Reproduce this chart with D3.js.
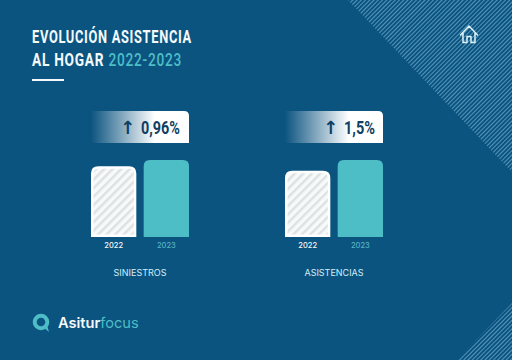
<!DOCTYPE html>
<html>
<head>
<meta charset="utf-8">
<script src="https://cdn.jsdelivr.net/npm/d3@7"></script>
<style>
html, body { margin: 0; padding: 0; background: #0c5480; }
svg { display: block; }
</style>
</head>
<body>
<div id="chart-container"></div>
<script>
var years = ["2022", "2023"];
var categories = ["SINIESTROS", "ASISTENCIAS"];
var siniestros = [92, 100];
var asistencias = [86, 100];
var changes = ["0,96%", "1,5%"];

var navy = "#0c5480", ink = "#0f3f63", teal = "#4dbdc6";

var svg = d3.select("#chart-container")
    .append("svg")
    .attr("width", 512)
    .attr("height", 360);

var defs = svg.append("defs");

// Stripes inside the 2022 bars
var barHatch = defs.append("pattern")
    .attr("id", "bar-hatch")
    .attr("width", 6)
    .attr("height", 6)
    .attr("patternUnits", "userSpaceOnUse")
    .attr("patternTransform", "rotate(45)");
barHatch.append("rect").attr("width", 6).attr("height", 6).attr("fill", "#f8f9f9");
barHatch.append("rect").attr("width", 2.4).attr("height", 6).attr("fill", "#dce1e4");

// Stripes of the corner decoration
var cornerHatch = defs.append("pattern")
    .attr("id", "corner-hatch")
    .attr("width", 3)
    .attr("height", 3)
    .attr("patternUnits", "userSpaceOnUse")
    .attr("patternTransform", "rotate(45)");
cornerHatch.append("rect").attr("width", 1).attr("height", 3).attr("fill", "#5596bb");

var fade = defs.append("linearGradient").attr("id", "badge-fade");
fade.append("stop").attr("offset", "0%").attr("stop-color", "#fff").attr("stop-opacity", 0);
fade.append("stop").attr("offset", "65%").attr("stop-color", "#fff").attr("stop-opacity", 1);

// Background
svg.append("rect").attr("width", 512).attr("height", 360).attr("fill", navy);
svg.append("path").attr("d", "M348,0L512,172L512,0Z").attr("fill", "url(#corner-hatch)");
svg.append("path").attr("d", "M457,360L512,303L512,360Z").attr("fill", "url(#corner-hatch)");

// No condensed font is installed, so squeeze Roboto to the wanted width
function condense(sel, x, y, width) {
    var scale = width / sel.node().getComputedTextLength();
    sel.attr("transform", "translate(" + x + "," + y + ") scale(" + scale + ",1)");
    return sel;
}

// Title
var title = svg.append("g")
    .attr("font-family", "Roboto")
    .attr("font-size", 18.5)
    .attr("font-weight", 700)
    .attr("letter-spacing", 1)
    .attr("fill", "#f4fafc");
condense(title.append("text").text("EVOLUCIÓN ASISTENCIA"), 32, 43, 160);
var line2 = title.append("text");
line2.append("tspan").text("AL HOGAR ");
line2.append("tspan").attr("fill", teal).attr("font-weight", 500).text("2022-2023");
condense(line2, 32, 66, 150);
svg.append("rect").attr("x", 32).attr("y", 79).attr("width", 32).attr("height", 2).attr("fill", "#f4fafc");

// Home icon
svg.append("path")
    .attr("d", "M460.5,35L469,26L477.5,35M463,33V42.5H467V36.5H471V42.5H475V33")
    .attr("fill", "none")
    .attr("stroke", "#dff3f8")
    .attr("stroke-width", 1.5)
    .attr("stroke-linejoin", "round")
    .attr("stroke-linecap", "round");

// Vertical scale is shared by both panels
var y = d3.scaleLinear().domain([0, 100]).range([237, 160]);

function topRounded(x0, y0, w, h, r) {
    return "M" + x0 + "," + (y0 + h) +
        "V" + (y0 + r) +
        "Q" + x0 + "," + y0 + " " + (x0 + r) + "," + y0 +
        "H" + (x0 + w - r) +
        "Q" + (x0 + w) + "," + y0 + " " + (x0 + w) + "," + (y0 + r) +
        "V" + (y0 + h) + "Z";
}

function drawPanel(left, right, category, values, change, textEnd, textLen) {
    var x = d3.scaleBand()
        .domain(years)
        .range([left, right])
        .paddingInner(0.14);

    var g = svg.append("g");

    // Change badge
    g.append("path")
        .attr("d", "M" + left + ",111H" + (right - 5) + "Q" + right + ",111 " + right + ",116V143H" + left + "Z")
        .attr("fill", "url(#badge-fade)");
    var badgeText = g.append("text")
        .attr("font-family", "Roboto")
        .attr("font-size", 17.5)
        .attr("font-weight", 700)
        .attr("fill", ink)
        .text(change);
    condense(badgeText, textEnd - textLen, 133.5, textLen);
    g.append("text")
        .attr("x", textEnd - textLen - 6)
        .attr("y", 134)
        .attr("text-anchor", "end")
        .attr("font-family", "DejaVu Sans")
        .attr("font-size", 18)
        .attr("font-weight", 700)
        .attr("fill", ink)
        .text("↑");

    // Bars
    g.selectAll(".bar")
        .data(years)
        .enter()
        .append("path")
        .attr("class", "bar")
        .attr("d", function (d, i) {
            // the white border of the 2022 bar stays inside its band
            var inset = i === 0 ? 1.25 : 0;
            return topRounded(x(d) + inset, y(values[i]) + inset, x.bandwidth() - inset * 2, y(0) - y(values[i]) - inset * 2, 6);
        })
        .attr("fill", function (d, i) { return i === 0 ? "url(#bar-hatch)" : teal; })
        .attr("stroke", function (d, i) { return i === 0 ? "#fff" : "none"; })
        .attr("stroke-width", 2.5);

    // Year axis
    var axis = g.append("g")
        .attr("transform", "translate(0,237)")
        .call(d3.axisBottom(x).tickSize(0).tickPadding(6));
    axis.select(".domain").remove();
    axis.selectAll("text")
        .attr("font-family", "Inter")
        .attr("font-size", 7.5)
        .attr("font-weight", 500)
        .attr("fill", function (d, i) { return i === 0 ? "#f4fafc" : "#55b3c4"; });

    // Category label
    g.append("text")
        .attr("x", (left + right) / 2)
        .attr("y", 276)
        .attr("text-anchor", "middle")
        .attr("font-family", "Inter")
        .attr("font-size", 9)
        .attr("fill", "#d3eef6")
        .text(category);
}

drawPanel(91, 189, categories[0], siniestros, changes[0], 180, 39);
drawPanel(285, 383, categories[1], asistencias, changes[1], 375, 31);

// Logo
svg.append("circle")
    .attr("cx", 41)
    .attr("cy", 322)
    .attr("r", 6.3)
    .attr("fill", "none")
    .attr("stroke", teal)
    .attr("stroke-width", 4);
svg.append("path").attr("d", "M43,327L49,332L47,325Z").attr("fill", teal);
var logo = svg.append("text")
    .attr("x", 58)
    .attr("y", 328)
    .attr("font-family", "Inter")
    .attr("font-size", 14.6);
logo.append("tspan").attr("font-weight", 600).attr("fill", "#f4fafc").text("Asitur");
logo.append("tspan").attr("fill", teal).text("focus");
</script>
</body>
</html>
